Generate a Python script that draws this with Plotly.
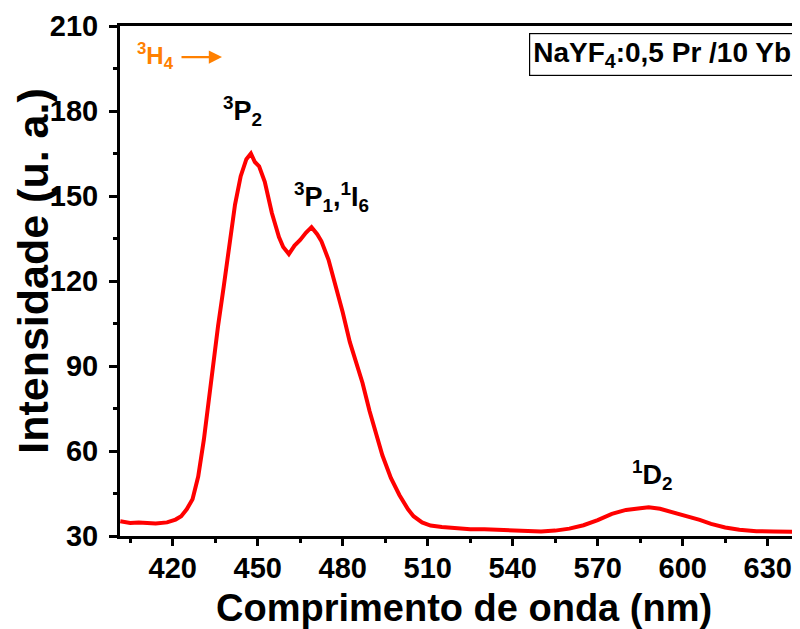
import plotly.graph_objects as go

wavelength = [401.5, 405, 408, 411, 414, 418, 421, 423, 425, 427, 429, 431, 433, 435, 436, 438,
              440, 442, 444, 446, 447.6, 449, 450.5, 452.5, 455, 457.5, 459, 461, 463, 465, 467,
              469, 471, 472.5, 475, 478, 480, 482.5, 485, 487, 489.5, 492, 494, 497, 500, 503,
              505, 508, 511, 515, 520, 525, 530, 535, 540, 545, 550, 555, 560, 565, 570, 575,
              580, 585, 588, 592, 597, 602, 606, 610, 615, 620, 626, 632, 636, 641]
intensity = [35.2, 34.6, 34.8, 34.5, 34.4, 34.8, 35.8, 37.0, 39.5, 43.0, 51, 64, 80, 97, 104, 118,
             133, 147, 157, 163, 165, 162, 160.5, 155, 144, 135.5, 132, 129.5, 132.5, 134.5, 137,
             139, 136.5, 134, 127.5, 117, 109, 98.5, 91, 84, 74, 65, 58.5, 50.5, 44.5, 39.5,
             37, 34.8, 33.7, 33.2, 32.8, 32.4, 32.4, 32.2, 31.9, 31.6, 31.6, 31.9, 32.6, 33.8, 35.6, 37.8,
             39.2, 39.8, 40.1, 39.6, 38.3, 37.0, 35.7, 34.3, 33.0, 32.2, 31.7, 31.6, 31.5, 31.5]

x_ticks = [420, 450, 480, 510, 540, 570, 600, 630]
y_ticks = [30, 60, 90, 120, 150, 180, 210]

FONT = "Liberation Sans, Arial, sans-serif"

fig = go.Figure()
fig.add_trace(go.Scatter(x=wavelength, y=intensity, mode="lines",
                         line=dict(color="#FF0000", width=4), showlegend=False))

# the page adds an 8px body margin, so the figure is 8px smaller on each axis
fig.update_layout(
    width=792, height=621,
    margin=dict(l=112, r=0, t=18, b=93),
    plot_bgcolor="white", paper_bgcolor="white",
    font=dict(family=FONT, color="black"),
    xaxis=dict(range=[401.4, 641.4], tickmode="array", tickvals=x_ticks,
               ticks="outside", ticklen=7, tickwidth=2.5, tickcolor="black",
               showline=True, linewidth=3, linecolor="black", mirror=True,
               showgrid=False, zeroline=False, automargin=False,
               ticklabelstandoff=-3,
               tickfont=dict(size=29, weight="bold", family=FONT),
               minor=dict(ticks="outside", ticklen=4, tickwidth=2.5, tickcolor="black",
                          dtick=15, tick0=405, showgrid=False)),
    yaxis=dict(range=[30, 210], tickmode="array", tickvals=y_ticks,
               ticks="outside", ticklen=8, tickwidth=2.5, tickcolor="black",
               showline=True, linewidth=3, linecolor="black", mirror=False,
               showgrid=False, zeroline=False, automargin=False,
               ticklabelstandoff=5,
               tickfont=dict(size=29, weight="bold", family=FONT),
               minor=dict(ticks="outside", ticklen=4, tickwidth=2.5, tickcolor="black",
                          dtick=15, tick0=15, showgrid=False)),
)

# axis titles
fig.add_annotation(xref="paper", yref="paper", x=0.5066, y=-0.141, xanchor="center", yanchor="middle",
                   text="Comprimento de onda (nm)", showarrow=False,
                   font=dict(size=38, weight="bold", family=FONT, color="black"))
fig.add_annotation(xref="paper", yref="paper", x=-0.128, y=0.52, xanchor="center", yanchor="middle",
                   text="Intensidade (u. a.)", textangle=-90, showarrow=False,
                   font=dict(size=43, weight="bold", family=FONT, color="black"))

lab_font = dict(size=27, weight="bold", family=FONT, color="black")
fig.add_annotation(x=444.5, y=180, text="<sup>3</sup>P<sub>2</sub>", showarrow=False, font=lab_font)
fig.add_annotation(x=476.2, y=149.5, text="<sup>3</sup>P<sub>1</sub>,<sup>1</sup>I<sub>6</sub>",
                   showarrow=False, font=lab_font)
fig.add_annotation(x=589.5, y=51.7, text="<sup>1</sup>D<sub>2</sub>", showarrow=False, font=lab_font)

orange = "#FF8000"
fig.add_annotation(xref="paper", yref="paper", x=0.022, y=0.941, xanchor="left", yanchor="middle",
                   text="<sup>3</sup>H<sub>4</sub>", showarrow=False,
                   font=dict(size=24, weight="bold", family=FONT, color=orange))
fig.add_annotation(xref="paper", yref="paper", x=0.15, y=0.939, ax=-42, ay=0,
                   text="", showarrow=True,
                   arrowhead=2, arrowsize=1.2, arrowwidth=2.2, arrowcolor=orange)

fig.add_annotation(xref="paper", yref="paper", x=0.602, y=0.945, xanchor="left", yanchor="middle",
                   text="NaYF<sub>4</sub>:0,5 Pr /10 Yb", showarrow=False,
                   bordercolor="black", borderwidth=1.2, borderpad=3, bgcolor="white",
                   font=dict(size=28, weight="bold", family=FONT, color="black"))

fig.write_html("out.html")
